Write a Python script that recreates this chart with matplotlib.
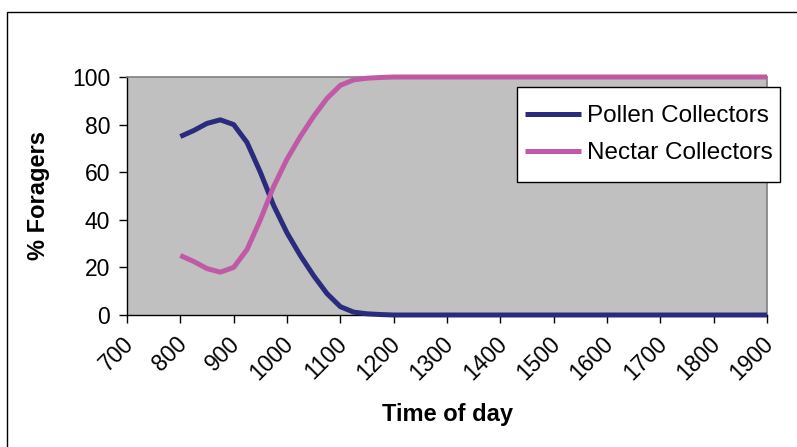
import matplotlib.pyplot as plt
import matplotlib.patches as patches
import matplotlib.transforms as mtransforms

# time of day (hhmm) and % foragers
times = [800, 825, 850, 875, 900, 925, 950, 975, 1000, 1025, 1050, 1075,
         1100, 1125, 1150, 1175, 1200, 1300, 1400, 1500, 1600, 1700, 1800, 1900]
pollen = [75, 77.5, 80.5, 82, 80, 72.5, 60, 46, 34.5, 25, 16.5, 9,
          3.5, 1.2, 0.5, 0.2, 0, 0, 0, 0, 0, 0, 0, 0]
nectar = [25, 22.5, 19.5, 18, 20, 27.5, 40, 54, 65.5, 75, 83.5, 91,
          96.5, 98.8, 99.5, 99.8, 100, 100, 100, 100, 100, 100, 100, 100]
xticks = list(range(700, 2000, 100))
yticks = [0, 20, 40, 60, 80, 100]

plt.rcParams['font.family'] = ['Liberation Sans', 'DejaVu Sans']

fig = plt.figure(figsize=(7.97, 4.47), dpi=100)
ax = fig.add_axes([127/797, 1 - 315/447, 640/797, 238/447])
ax.set_facecolor('#C0C0C0')

ax.plot(times, pollen, color='#2B2B7E', lw=3.6, label='Pollen Collectors',
        solid_capstyle='butt', clip_on=False, zorder=3)
ax.plot(times, nectar, color='#C059A6', lw=3.6, label='Nectar Collectors',
        solid_capstyle='butt', clip_on=False, zorder=3)

ax.set_xlim(700, 1900)
ax.set_ylim(0, 100)
ax.set_xticks(xticks)
ax.set_yticks(yticks)
ax.set_xticklabels([str(t) for t in xticks], rotation=45, ha='right',
                   va='center', rotation_mode='anchor')
ax.tick_params(axis='both', direction='out', length=6, width=1,
               labelsize=16.5, color='black')
ax.tick_params(axis='x', pad=12.5)
ax.tick_params(axis='y', pad=6)

# nudge rotated labels a little right, like the original
shift = mtransforms.ScaledTranslation(3/100, 0, fig.dpi_scale_trans)
for lbl in ax.get_xticklabels():
    lbl.set_transform(lbl.get_transform() + shift)

for side in ['left', 'bottom']:
    ax.spines[side].set_color('black')
    ax.spines[side].set_linewidth(1)
for side in ['top', 'right']:
    ax.spines[side].set_color('#808080')
    ax.spines[side].set_linewidth(1.2)

fig.text(38/797, 1 - 196/447, '% Foragers', rotation=90, ha='center',
         va='center', fontsize=17, fontweight='bold')
fig.text(448/797, 1 - 415/447, 'Time of day', ha='center', va='center',
         fontsize=17, fontweight='bold')

# legend box drawn by hand so the padding matches the original
legbox = patches.Rectangle((517/797, 1 - 182/447), 263/797, 95/447,
                           transform=fig.transFigure, facecolor='white',
                           edgecolor='black', linewidth=1, zorder=4,
                           clip_on=False)
ax.add_patch(legbox)
leg = ax.legend(loc='upper left', bbox_to_anchor=(525/797, 1 - 105/447),
                bbox_transform=fig.transFigure, fontsize=17.5, frameon=False,
                handlelength=2.3, handletextpad=0.25, borderpad=0,
                labelspacing=0.62, borderaxespad=0)
leg.set_zorder(5)
for line in leg.get_lines():
    line.set_linewidth(3.6)

# outer chart border
border = patches.Rectangle((7/797, -0.1), 1.2, 1.1 - 12/447, transform=fig.transFigure,
                           fill=False, edgecolor='black', linewidth=1)
fig.patches.append(border)

fig.savefig('out.png', dpi=100)
